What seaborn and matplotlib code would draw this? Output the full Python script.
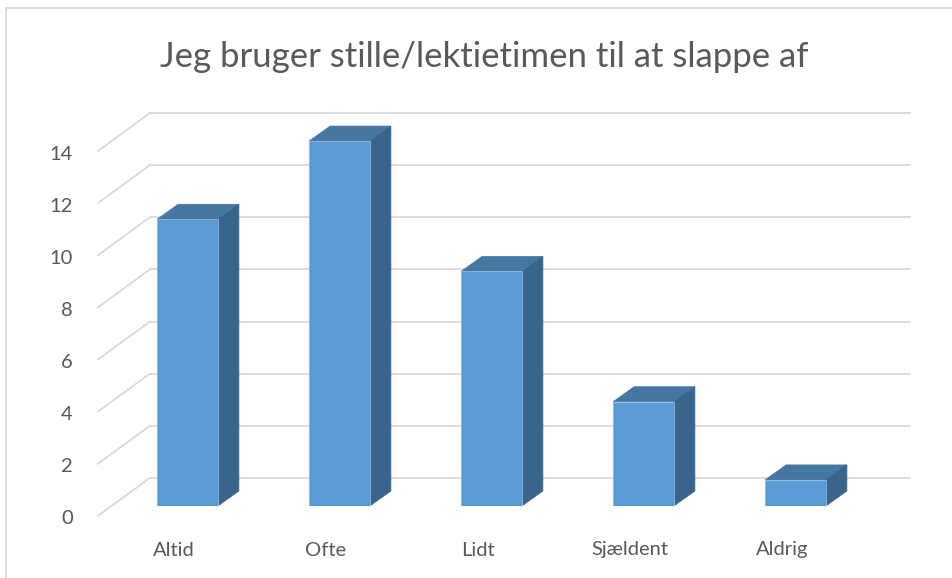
import numpy as np
import pandas as pd
import matplotlib
matplotlib.use("Agg")
import matplotlib.pyplot as plt
import matplotlib.transforms as mtransforms
from matplotlib.patches import Polygon, Rectangle
import seaborn as sns

# data
kategorier = ["Altid", "Ofte", "Lidt", "Sjældent", "Aldrig"]
antal = [11, 14, 9, 4, 1]
y_ticks = [0, 2, 4, 6, 8, 10, 12, 14]
titel = "Jeg bruger stille/lektietimen til at slappe af"

FRONT = "#5B9BD5"
TOP = "#4677A3"
SIDE = "#3A6489"
GRID = "#D9D9D9"
TXT = "#595959"

sns.set_style("white")
plt.rcParams['font.family'] = ['Lato', 'DejaVu Sans']

fig = plt.figure(figsize=(9.52, 5.78), dpi=100)
ax = fig.add_axes([111.5 / 952, 72 / 578, 760 / 952, 391 / 578])

df = pd.DataFrame({"kategori": kategorier, "antal": antal})
sns.barplot(data=df, x="kategori", y="antal", color=FRONT, width=0.4,
            saturation=1, ax=ax, zorder=3)
ax.set_xlim(-0.5, 4.5)
ax.set_ylim(0, 15)
ax.axis("off")

# pixel offsets (relative to bar front plane)
px = 1 / fig.dpi
back = mtransforms.ScaledTranslation(38.3 * px, 28 * px, fig.dpi_scale_trans)
front = mtransforms.ScaledTranslation(-13.7 * px, -10 * px, fig.dpi_scale_trans)
depth = (21, 15)

# back wall gridlines + side wall diagonals
for v in y_ticks:
    ax.plot([-0.5, 4.5], [v, v], color=GRID, lw=1.3,
            transform=ax.transData + back, zorder=1, clip_on=False)
    p_front = (ax.transData + front).transform((-0.5, v))
    p_back = (ax.transData + back).transform((-0.5, v))
    ax.plot([p_front[0], p_back[0]], [p_front[1], p_back[1]], color=GRID,
            lw=1.3, transform=None, zorder=1, clip_on=False)
    tx, ty = p_front
    fig.text(tx - 25, ty - 3, str(v), transform=None, ha="right", va="center",
             fontsize=14.5, color=TXT)

# 3d faces for each bar
for patch in ax.patches:
    x0, y0 = patch.get_x(), patch.get_y()
    x1, y1 = x0 + patch.get_width(), y0 + patch.get_height()
    (ax0, ay0), (ax1, ay1) = ax.transData.transform([(x0, y0), (x1, y1)])
    dx, dy = depth
    top = Polygon([(ax0, ay1), (ax1, ay1), (ax1 + dx, ay1 + dy), (ax0 + dx, ay1 + dy)],
                  closed=True, facecolor=TOP, edgecolor=TOP, lw=0.5,
                  transform=None, zorder=2, clip_on=False)
    side = Polygon([(ax1, ay0), (ax1 + dx, ay0 + dy), (ax1 + dx, ay1 + dy), (ax1, ay1)],
                   closed=True, facecolor=SIDE, edgecolor=SIDE, lw=0.5,
                   transform=None, zorder=2, clip_on=False)
    ax.add_artist(top)
    ax.add_artist(side)
    patch.set_edgecolor("#8DB8E2")
    patch.set_linewidth(0.6)

# category labels on the front plane
for i, k in enumerate(kategorier):
    lx, ly = (ax.transData + front).transform((i, 0))
    fig.text(lx, ly - 34, k, transform=None, ha="center", va="center",
             fontsize=14.5, color=TXT)

fig.text(484 / 952, 1 - 57 / 578, titel, ha="center", va="center",
         fontsize=25, color=TXT)

# chart border
fig.patches.append(Rectangle((6 / 952, -0.1), 1.1, 1 - 8 / 578 + 0.1,
                             transform=fig.transFigure, fill=False,
                             edgecolor=GRID, lw=1.3))

fig.savefig("out.png", dpi=100)
